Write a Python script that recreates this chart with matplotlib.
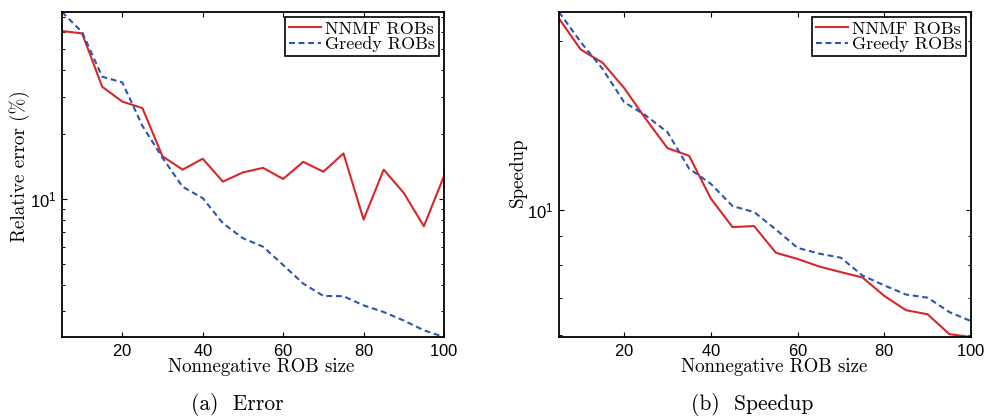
import numpy as np
import matplotlib
matplotlib.use("Agg")
import matplotlib.pyplot as plt
from matplotlib.ticker import NullFormatter, LogLocator, FixedLocator

# ROB sizes
rob_size = [5, 10, 15, 20, 25, 30, 35, 40, 45, 50,
            55, 60, 65, 70, 75, 80, 85, 90, 95, 100]

# (a) relative error (%)
err_nnmf = [60.5, 59.0, 33.3, 28.4, 26.5, 15.8, 13.7, 15.4, 12.05, 13.3,
            13.97, 12.4, 14.9, 13.4, 16.3, 8.03, 13.7, 10.67, 7.47, 12.8]
err_greedy = [74.2, 59.8, 37.1, 34.9, 21.9, 15.55, 11.4, 10.1, 7.72, 6.57,
              6.0, 4.93, 4.04, 3.54, 3.53, 3.2, 2.98, 2.72, 2.45, 2.28]

# (b) speedup
spd_nnmf = [21.9, 19.3, 18.3, 16.5, 14.54, 12.9, 12.5, 10.5, 9.34, 9.38,
            8.41, 8.2, 7.95, 7.77, 7.6, 7.05, 6.65, 6.54, 6.03, 5.96]
spd_greedy = [22.5, 19.9, 17.85, 15.57, 14.74, 13.77, 11.86, 11.15, 10.18, 9.93,
              9.25, 8.58, 8.38, 8.24, 7.66, 7.36, 7.09, 7.0, 6.6, 6.36]

series_labels = ["NNMF ROBs", "Greedy ROBs"]
ylabels = ["Relative error (%)", "Speedup"]
captions = ["(a)  Error", "(b)  Speedup"]
xlabel = "Nonnegative ROB size"
xticks = [20, 40, 60, 80, 100]

RED = "#d8262a"
BLUE = "#2a55b3"
SERIF = "cmr10"
plt.rcParams["font.family"] = ["Liberation Sans", "DejaVu Sans"]
plt.rcParams["axes.formatter.use_mathtext"] = True

W, H = 985, 416
fig = plt.figure(figsize=(W / 100, H / 100), dpi=100)

def box(x0, y0, x1, y1):
    return [x0 / W, 1 - y1 / H, (x1 - x0) / W, (y1 - y0) / H]

axes = [fig.add_axes(box(62, 12, 444, 337)),
        fig.add_axes(box(559, 12, 971, 337))]
data = [(err_nnmf, err_greedy), (spd_nnmf, spd_greedy)]
# label placements in pixels: (xlabel x-centre, ylabel x-centre, ylabel y-centre)
label_pos = [(261, 20, 166), (774, 518, 172)]
caption_x = [237, 752]

for ax, (a, b), yl, (xlx, ylx, yly) in zip(axes, data, ylabels, label_pos):
    ax.plot(rob_size, a, color=RED, lw=1.5, label=series_labels[0])
    ax.plot(rob_size, b, color=BLUE, lw=1.5, ls=(0, (2.8, 1.8)),
            label=series_labels[1])
    ax.set_yscale("log")
    ax.set_xlim(min(rob_size), max(rob_size))
    lo = min(min(a), min(b))
    hi = max(max(a), max(b))
    ax.set_ylim(lo, hi)
    ax.xaxis.set_major_locator(FixedLocator(xticks))
    ax.yaxis.set_major_locator(LogLocator(base=10))
    ax.yaxis.set_minor_locator(LogLocator(base=10, subs=np.arange(2, 10)))
    ax.yaxis.set_minor_formatter(NullFormatter())
    ax.tick_params(which="both", direction="in", top=True, right=True,
                   labelsize=12, colors="black", pad=4)
    ax.tick_params(which="major", length=3.5, width=0.8)
    ax.tick_params(which="minor", length=2.2, width=0.7)
    for s in ax.spines.values():
        s.set_linewidth(1.3)
    ax.set_xlabel(xlabel, fontfamily=SERIF, fontsize=13.6)
    ax.set_ylabel(yl, fontfamily=SERIF, fontsize=13.7)
    ax.xaxis.set_label_coords(xlx / W, 1 - 367 / H, transform=fig.transFigure)
    ax.xaxis.label.set_va("center")
    ax.yaxis.set_label_coords(ylx / W, 1 - yly / H, transform=fig.transFigure)
    ax.yaxis.label.set_va("center")
    leg = ax.legend(loc="upper right", prop={"family": SERIF, "size": 13},
                    frameon=True, fancybox=False, framealpha=1,
                    edgecolor="black", handlelength=1.8, handletextpad=0.2,
                    borderpad=0.2, labelspacing=0.0, borderaxespad=0.3)
    leg.get_frame().set_linewidth(1.2)

for cx, cap in zip(caption_x, captions):
    fig.text(cx / W, 1 - 404 / H, cap, fontfamily=SERIF, fontsize=15.5,
             ha="center", va="center")

fig.savefig("out.png", dpi=100)
